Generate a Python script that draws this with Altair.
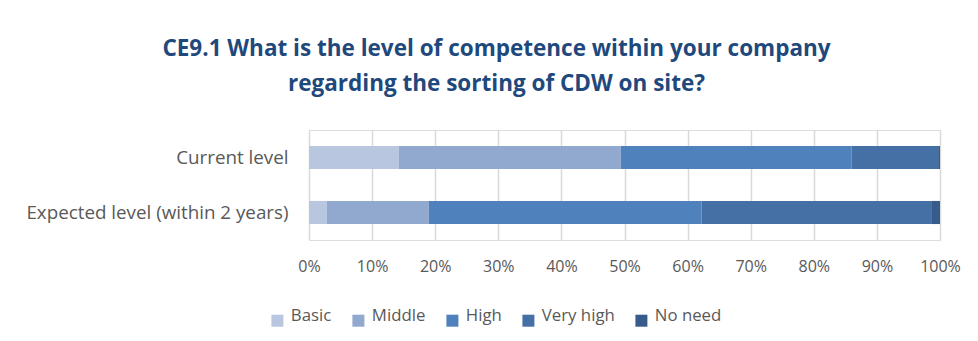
import altair as alt
import pandas as pd

categories = ["Current level", "Expected level (within 2 years)"]
levels = ["Basic", "Middle", "High", "Very high", "No need"]
basic = [14.2, 2.8]
middle = [35.2, 16.2]
high = [36.6, 43.2]
very_high = [13.7, 36.4]
no_need = [0.3, 1.4]
colors = ["#B9C6E0", "#91A9CF", "#4F81BD", "#4570A5", "#375C8C"]

series = [basic, middle, high, very_high, no_need]
rows = []
for li, (lvl, vals) in enumerate(zip(levels, series)):
    for ci, cat in enumerate(categories):
        rows.append({"category": cat, "level": lvl, "order": li, "value": vals[ci] / 100.0})
df = pd.DataFrame(rows)

label_color = "#595959"
font = "Open Sans"

chart = alt.Chart(df).mark_bar().encode(
    y=alt.Y("category:N", sort=categories, title=None,
            scale=alt.Scale(paddingInner=0.58, paddingOuter=0.29),
            axis=alt.Axis(ticks=False, domain=False, labelFontSize=18.8, labelColor=label_color,
                          labelFont=font, labelPadding=21, labelLimit=400)),
    x=alt.X("value:Q", stack="normalize", title=None,
            scale=alt.Scale(domain=[0, 1], nice=False),
            axis=alt.Axis(format="%", values=[i / 10 for i in range(11)], ticks=False, domain=False,
                          labelFontSize=16, labelColor=label_color, labelFont=font, labelPadding=18,
                          labelFlush=False,
                          grid=True, gridColor="#D9D9D9", gridWidth=1.5)),
    color=alt.Color("level:N", sort=levels, scale=alt.Scale(domain=levels, range=colors),
                    legend=alt.Legend(title=None, orient="none", direction="horizontal",
                                      legendX=-40, legendY=182, symbolType="square", symbolSize=144,
                                      symbolStrokeWidth=0, labelFontSize=16.8, labelColor=label_color,
                                      labelFont=font, columnPadding=18, labelOffset=5,
                                      labelBaseline="alphabetic")),
    order=alt.Order("order:Q"),
).properties(
    width=631,
    height=110,
    title=alt.TitleParams(
        text=["CE9.1 What is the level of competence within your company",
              "regarding the sorting of CDW on site?"],
        font=font, fontSize=22.5, fontWeight="bold", color="#1F497D",
        anchor="middle", frame="group", dx=-128, offset=35, lineHeight=35),
    autosize=alt.AutoSizeParams(type="none"),
    padding={"left": 301, "top": 122, "right": 30, "bottom": 93},
).configure_view(stroke=None).configure(background="white")

chart.save("out.html", embed_options={"renderer": "svg", "actions": False})
